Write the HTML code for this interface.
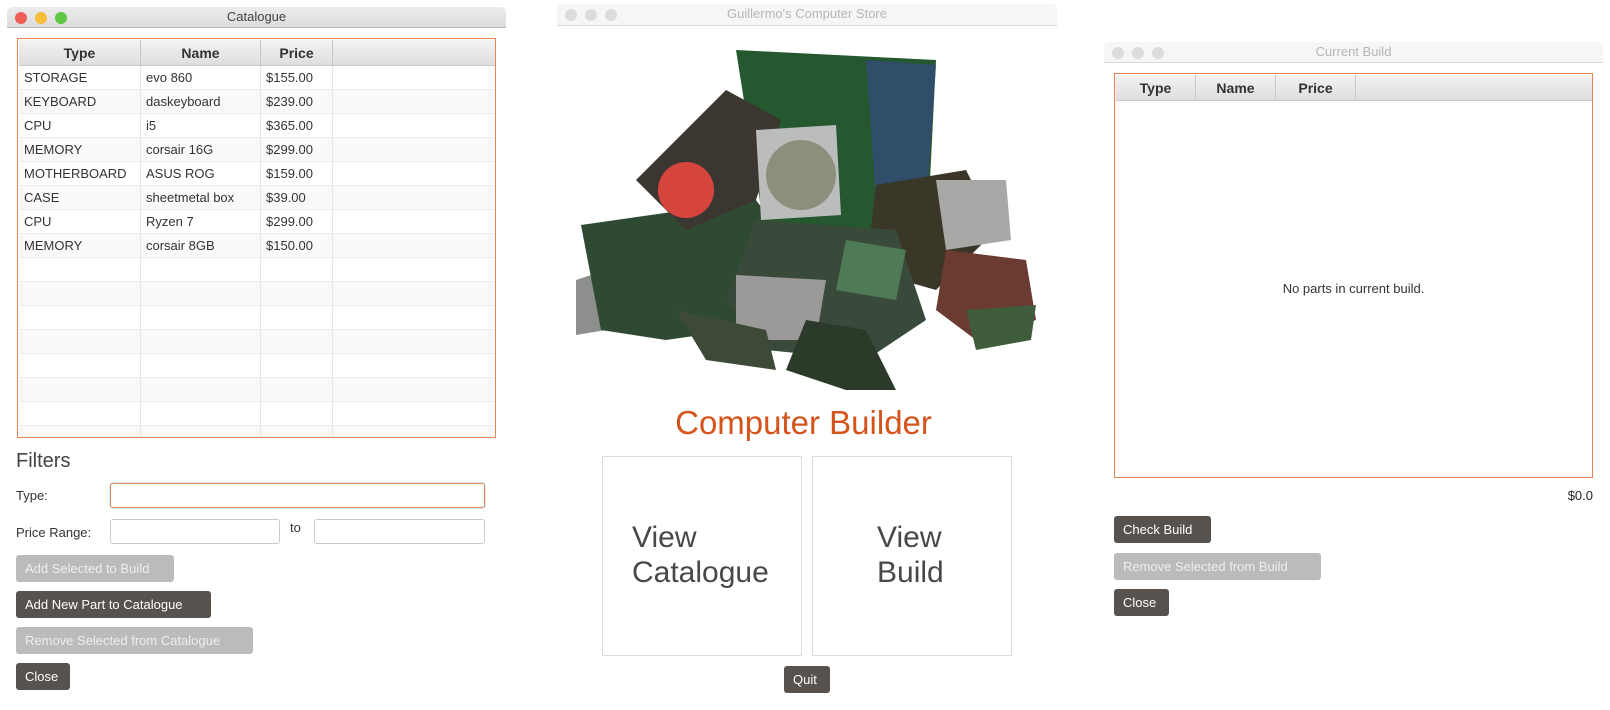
<!DOCTYPE html>
<html><head><meta charset="utf-8"><style>
*{box-sizing:border-box;margin:0;padding:0}
body{width:1610px;height:710px;background:#fff;position:relative;overflow:hidden;font-family:"Liberation Sans","DejaVu Sans",sans-serif;color:#333}
.a{position:absolute}
.tb{position:absolute;background:linear-gradient(#ececec,#dcdcdc);border-bottom:1px solid #b9b9b9;border-radius:5px 5px 0 0;font-size:13px;text-align:center;line-height:20px;color:#444}
.tb.in{background:#f6f6f6;color:#b5b5b5;border-bottom:1px solid #dadada}
.dot{position:absolute;top:5px;width:12px;height:12px;border-radius:50%}
.tbl{position:absolute;border:1px solid #e8834f;background:#fff;overflow:hidden}
.hd{position:absolute;top:1px;height:26px;background:linear-gradient(#f3f3f3,#dedede);border-right:1px solid #c8c8c8;border-bottom:1px solid #c8c8c8;font-weight:bold;font-size:14px;text-align:center;line-height:26px;color:#333}
.row{position:absolute;left:1px;right:1px;height:24px;border-bottom:1px solid #ececec;font-size:13px;line-height:24px}
.row span{position:absolute;top:0;padding-left:5px;height:24px;border-right:1px solid #e6e6e6}
.btn{position:absolute;height:27px;border-radius:3px;background:#57524d;color:#fff;font-size:13px;line-height:27px;padding-left:9px}
.btn.dis{background:#bdbbb9;color:#eee}
.inp{position:absolute;border:1px solid #c9c9c9;border-radius:3px;background:#fff;height:25px}
</style></head><body>

<!-- Catalogue window -->
<div class="tb" style="left:7px;top:7px;width:499px;height:21px">Catalogue
<div class="dot" style="left:8px;background:#ee5f57"></div>
<div class="dot" style="left:28px;background:#f5bd3a"></div>
<div class="dot" style="left:48px;background:#5ec642"></div></div>
<div class="tbl" style="left:17px;top:38px;width:479px;height:400px">
<div class="hd" style="left:1px;width:122px">Type</div>
<div class="hd" style="left:123px;width:120px">Name</div>
<div class="hd" style="left:243px;width:72px">Price</div>
<div class="hd" style="left:315px;width:162px;border-right:none"></div>
<div class="row" style="top:27px"><span style="left:0;width:122px">STORAGE</span><span style="left:122px;width:120px">evo 860</span><span style="left:242px;width:72px">$155.00</span></div>
<div class="row" style="top:51px;background:#f9f9f9"><span style="left:0;width:122px">KEYBOARD</span><span style="left:122px;width:120px">daskeyboard</span><span style="left:242px;width:72px">$239.00</span></div>
<div class="row" style="top:75px"><span style="left:0;width:122px">CPU</span><span style="left:122px;width:120px">i5</span><span style="left:242px;width:72px">$365.00</span></div>
<div class="row" style="top:99px;background:#f9f9f9"><span style="left:0;width:122px">MEMORY</span><span style="left:122px;width:120px">corsair 16G</span><span style="left:242px;width:72px">$299.00</span></div>
<div class="row" style="top:123px"><span style="left:0;width:122px">MOTHERBOARD</span><span style="left:122px;width:120px">ASUS ROG</span><span style="left:242px;width:72px">$159.00</span></div>
<div class="row" style="top:147px;background:#f9f9f9"><span style="left:0;width:122px">CASE</span><span style="left:122px;width:120px">sheetmetal box</span><span style="left:242px;width:72px">$39.00</span></div>
<div class="row" style="top:171px"><span style="left:0;width:122px">CPU</span><span style="left:122px;width:120px">Ryzen 7</span><span style="left:242px;width:72px">$299.00</span></div>
<div class="row" style="top:195px;background:#f9f9f9"><span style="left:0;width:122px">MEMORY</span><span style="left:122px;width:120px">corsair 8GB</span><span style="left:242px;width:72px">$150.00</span></div>
<div class="row" style="top:219px"><span style="left:0;width:122px"></span><span style="left:122px;width:120px"></span><span style="left:242px;width:72px"></span></div>
<div class="row" style="top:243px;background:#f9f9f9"><span style="left:0;width:122px"></span><span style="left:122px;width:120px"></span><span style="left:242px;width:72px"></span></div>
<div class="row" style="top:267px"><span style="left:0;width:122px"></span><span style="left:122px;width:120px"></span><span style="left:242px;width:72px"></span></div>
<div class="row" style="top:291px;background:#f9f9f9"><span style="left:0;width:122px"></span><span style="left:122px;width:120px"></span><span style="left:242px;width:72px"></span></div>
<div class="row" style="top:315px"><span style="left:0;width:122px"></span><span style="left:122px;width:120px"></span><span style="left:242px;width:72px"></span></div>
<div class="row" style="top:339px;background:#f9f9f9"><span style="left:0;width:122px"></span><span style="left:122px;width:120px"></span><span style="left:242px;width:72px"></span></div>
<div class="row" style="top:363px"><span style="left:0;width:122px"></span><span style="left:122px;width:120px"></span><span style="left:242px;width:72px"></span></div>
<div class="row" style="top:387px;background:#f9f9f9"><span style="left:0;width:122px"></span><span style="left:122px;width:120px"></span><span style="left:242px;width:72px"></span></div>
</div>
<div class="a" style="left:16px;top:450px;font-size:20px;color:#444">Filters</div>
<div class="a" style="left:16px;top:488px;font-size:13px">Type:</div>
<div class="inp" style="left:110px;top:483px;width:375px;border:1px solid #e0875a;box-shadow:0 0 0 1px #dfe9ee"></div>
<div class="a" style="left:16px;top:525px;font-size:13px">Price Range:</div>
<div class="inp" style="left:110px;top:519px;width:170px"></div>
<div class="a" style="left:290px;top:520px;font-size:13px">to</div>
<div class="inp" style="left:314px;top:519px;width:171px"></div>
<div class="btn dis" style="left:16px;top:555px;width:158px">Add Selected to Build</div>
<div class="btn" style="left:16px;top:591px;width:195px">Add New Part to Catalogue</div>
<div class="btn dis" style="left:16px;top:627px;width:237px">Remove Selected from Catalogue</div>
<div class="btn" style="left:16px;top:663px;width:54px">Close</div>

<!-- Middle window -->
<div class="tb in" style="left:557px;top:4px;width:500px;height:22px">Guillermo's Computer Store
<div class="dot" style="left:8px;background:#dcdcdc"></div>
<div class="dot" style="left:28px;background:#dcdcdc"></div>
<div class="dot" style="left:48px;background:#dcdcdc"></div></div>
<svg class="a" style="left:566px;top:40px" width="484" height="360" viewBox="0 0 484 360">
<polygon points="10,240 100,210 100,280 10,295" fill="#8d8f8c"/>
<polygon points="15,185 190,160 245,235 240,280 100,300 35,290" fill="#2f4a33"/>
<polygon points="170,10 370,20 360,220 200,200" fill="#25582f"/>
<polygon points="300,20 370,25 360,170 310,160" fill="#304d6a"/>
<polygon points="70,140 160,50 215,80 190,160 120,190" fill="#3c3630"/>
<circle cx="120" cy="150" r="28" fill="#d6453c"/>
<polygon points="190,90 270,85 275,175 195,180" fill="#bbbcbc"/>
<circle cx="235" cy="135" r="35" fill="#8c8f7c"/>
<polygon points="310,145 400,130 430,190 370,250 300,230" fill="#3a3628"/>
<polygon points="370,140 440,140 445,200 380,210" fill="#a8a9a6"/>
<polygon points="190,180 330,190 360,280 300,320 200,310 160,260" fill="#3a4a3a"/>
<polygon points="170,235 260,240 250,300 170,300" fill="#9b9a98"/>
<polygon points="280,200 340,210 330,260 270,250" fill="#4e7a55"/>
<polygon points="380,210 460,220 470,280 410,300 370,270" fill="#6b3a30"/>
<polygon points="240,280 300,290 330,350 280,350 220,330" fill="#2c3a2a"/>
<polygon points="110,270 200,290 210,330 140,320" fill="#3d4a38"/>
<polygon points="400,270 470,265 465,300 410,310" fill="#3f5d3a"/>
</svg>
<div class="a" style="left:557px;top:404px;width:493px;text-align:center;font-size:33px;color:#d4541b">Computer Builder</div>
<div class="a" style="left:602px;top:456px;width:200px;height:200px;border:1px solid #dcdcdc"></div>
<div class="a" style="left:632px;top:520px;font-size:30px;line-height:35px;color:#4a4744">View<br>Catalogue</div>
<div class="a" style="left:812px;top:456px;width:200px;height:200px;border:1px solid #dcdcdc"></div>
<div class="a" style="left:877px;top:520px;font-size:30px;line-height:35px;color:#4a4744">View<br>Build</div>
<div class="btn" style="left:784px;top:666px;width:46px">Quit</div>

<!-- Right window -->
<div class="tb in" style="left:1104px;top:42px;width:499px;height:21px">Current Build
<div class="dot" style="left:8px;background:#dcdcdc"></div>
<div class="dot" style="left:28px;background:#dcdcdc"></div>
<div class="dot" style="left:48px;background:#dcdcdc"></div></div>
<div class="tbl" style="left:1114px;top:73px;width:479px;height:405px">
<div class="hd" style="left:1px;width:80px">Type</div>
<div class="hd" style="left:81px;width:80px">Name</div>
<div class="hd" style="left:161px;width:80px">Price</div>
<div class="hd" style="left:241px;width:236px;border-right:none"></div>
<div class="a" style="left:0;top:207px;width:477px;text-align:center;font-size:13px">No parts in current build.</div>
</div>
<div class="a" style="left:1550px;top:488px;width:43px;text-align:right;font-size:13px;color:#222">$0.0</div>
<div class="btn" style="left:1114px;top:516px;width:97px">Check Build</div>
<div class="btn dis" style="left:1114px;top:553px;width:207px">Remove Selected from Build</div>
<div class="btn" style="left:1114px;top:589px;width:55px">Close</div>
</body></html>
